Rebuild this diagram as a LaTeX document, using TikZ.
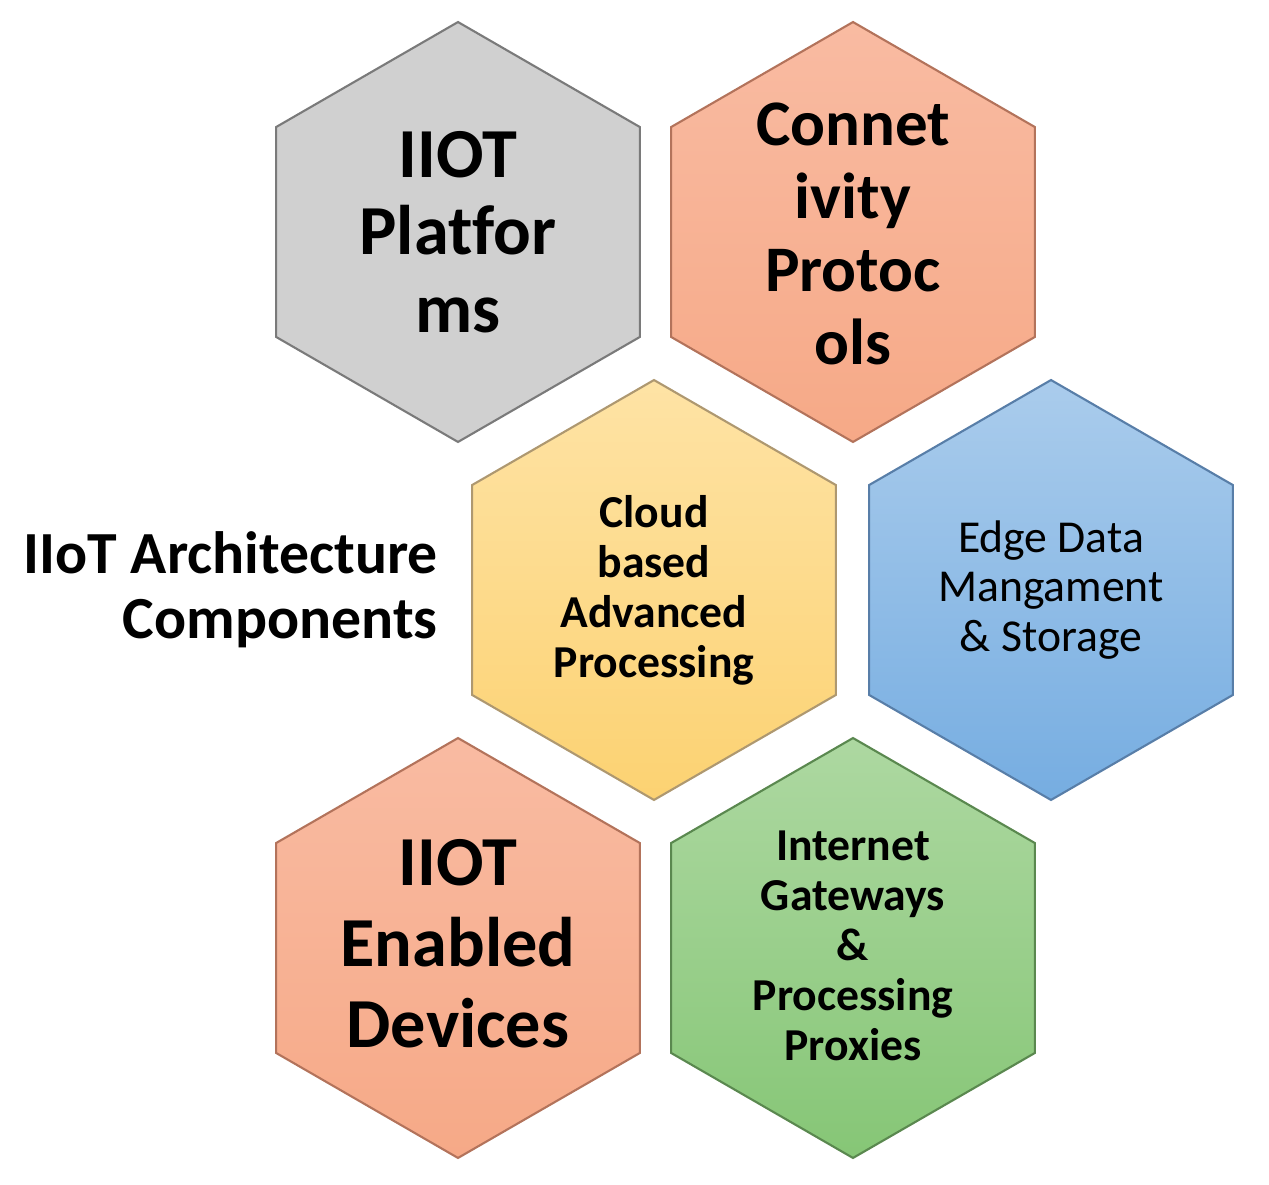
\documentclass[tikz,border=0pt]{standalone}
\usepackage{fontspec}
\setmainfont{Carlito}[Ligatures=NoCommon]
\usetikzlibrary{shapes.geometric}

\definecolor{greyfill}{HTML}{D0D0D0}
\definecolor{greyline}{HTML}{7A7A7A}
\definecolor{peachtop}{HTML}{F9BBA2}
\definecolor{peachbot}{HTML}{F6A987}
\definecolor{peachline}{HTML}{B3735B}
\definecolor{sandtop}{HTML}{FEE3A5}
\definecolor{sandbot}{HTML}{FCD272}
\definecolor{sandline}{HTML}{AE9870}
\definecolor{skytop}{HTML}{AACCEC}
\definecolor{skybot}{HTML}{76ADE1}
\definecolor{skyline}{HTML}{587EA8}
\definecolor{leaftop}{HTML}{ADD8A1}
\definecolor{leafbot}{HTML}{86C676}
\definecolor{leafline}{HTML}{5A884F}

\begin{document}
\begin{tikzpicture}[
		x=0.02cm, y=-0.02cm,
		hexcell/.style={regular polygon, regular polygon sides=6, shape border rotate=30,
			minimum size=8.4cm, inner sep=0pt, line width=1.2pt},
		bigtext/.style={align=center, font=\bfseries\fontsize{40}{44}\selectfont},
		smalltext/.style={align=center, font=\bfseries\fontsize{26}{28.5}\selectfont}
	]
  \useasboundingbox (0,0) rectangle (1269,1185);
  \node (platforms) [hexcell, draw=greyline, fill=greyfill] at (458,232) {};
  \node (platforms_label) [bigtext] at (458,232) {IIOT\\Platfor\\ms};
  \node (protocols) [hexcell, draw=peachline, top color=peachtop, bottom color=peachbot] at (853,232) {};
  \node (protocols_label) [bigtext, font=\bfseries\fontsize{37}{41.5}\selectfont] at (853,234) {Connet\\ivity\\Protoc\\ols};
  \node (cloud) [hexcell, draw=sandline, top color=sandtop, bottom color=sandbot] at (654,590) {};
  \node (cloud_label) [smalltext] at (654,590) {Cloud\\based\\Advanced\\Processing};
  \node (edge) [hexcell, draw=skyline, top color=skytop, bottom color=skybot] at (1051,590) {};
  \node (edge_label) [smalltext, font=\fontsize{26}{28.3}\selectfont] at (1051,590) {Edge Data\\Mangament\\\& Storage};
  \node (devices) [hexcell, draw=peachline, top color=peachtop, bottom color=peachbot] at (458,948) {};
  \node (devices_label) [bigtext, font=\bfseries\fontsize{40}{46}\selectfont] at (458,944) {IIOT\\Enabled\\Devices};
  \node (gateways) [hexcell, draw=leafline, top color=leaftop, bottom color=leafbot] at (853,948) {};
  \node (gateways_label) [smalltext] at (853,946) {Internet\\Gateways\\\&\\Processing\\Proxies};
  \node (arch) [anchor=east, align=right, inner sep=0pt, font=\bfseries\fontsize{34}{37}\selectfont] at (438,590) {IIoT Architecture\\Components};
\end{tikzpicture}
\end{document}
